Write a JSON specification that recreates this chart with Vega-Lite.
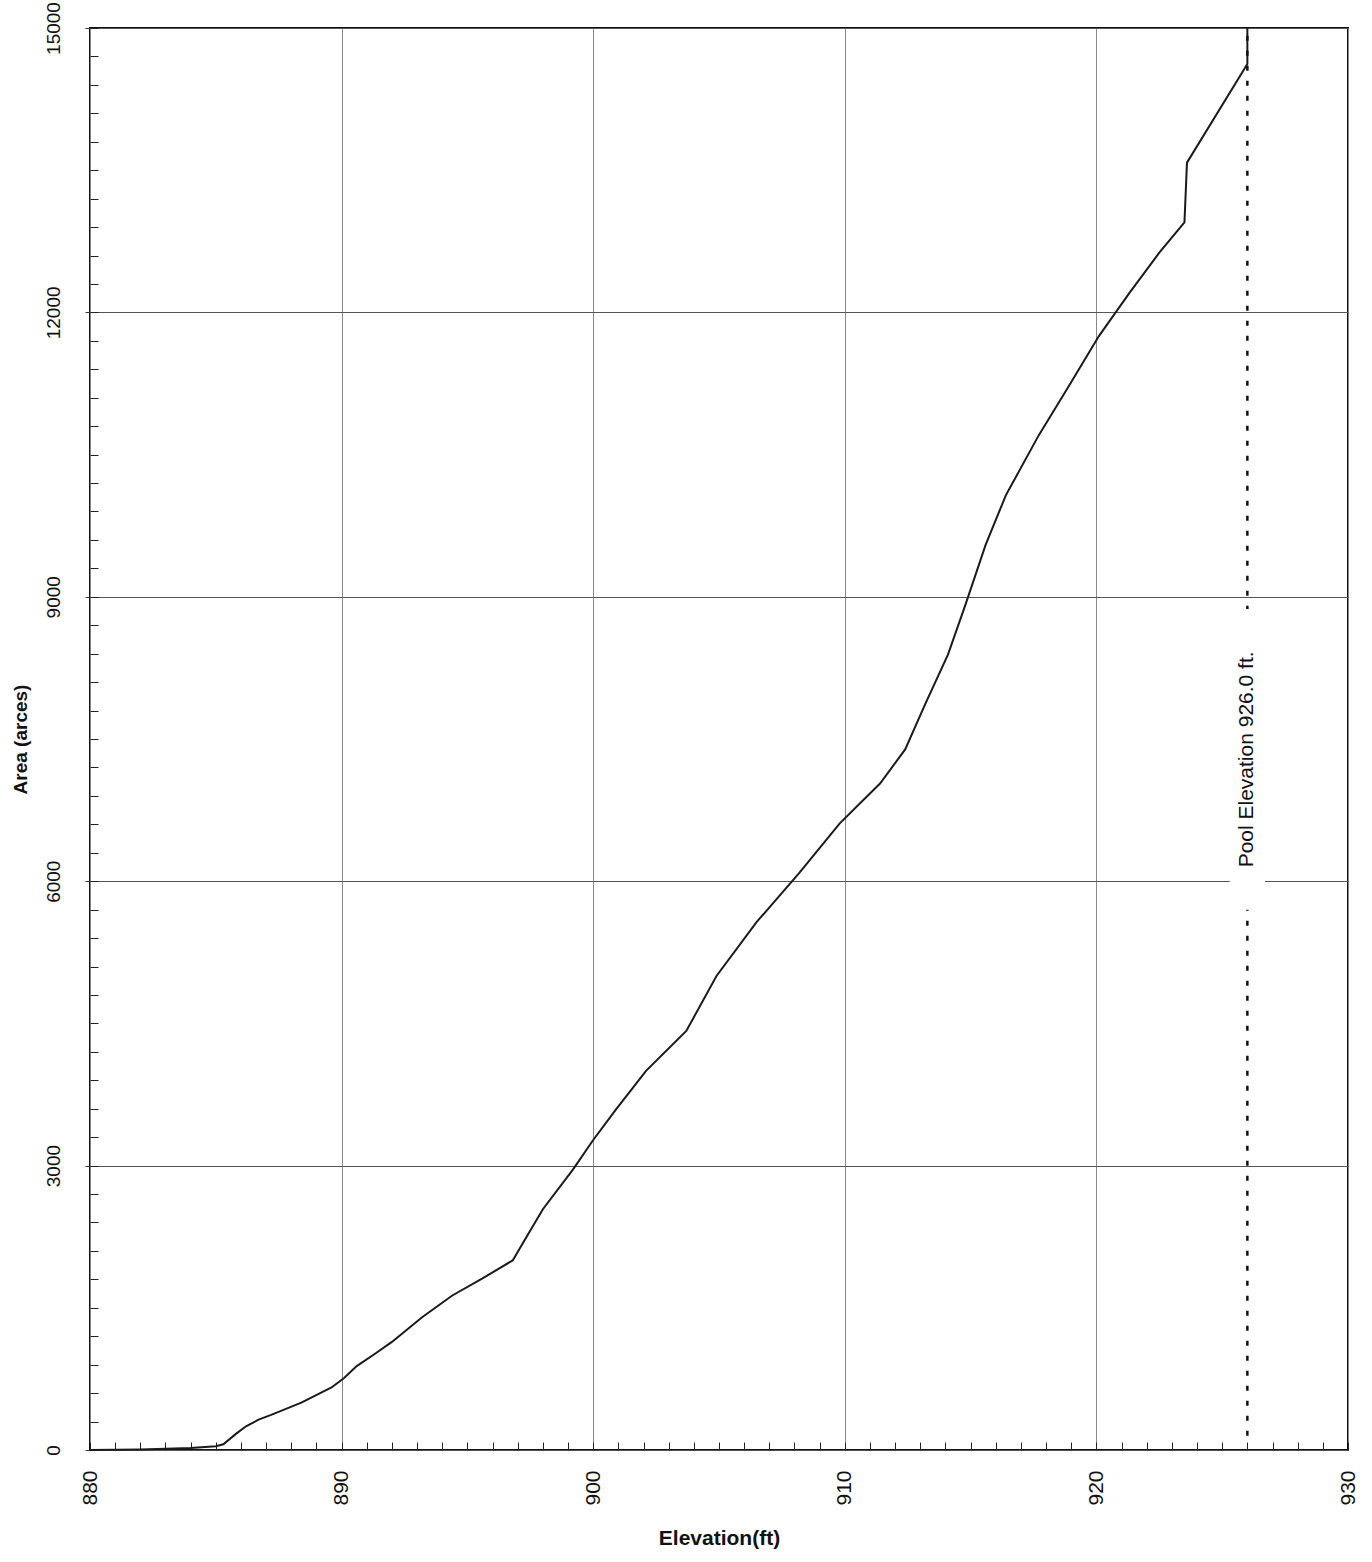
{
  "$schema": "https://vega.github.io/schema/vega-lite/v6.json",
  "width": 1258,
  "height": 1422,
  "autosize": {"type": "none"},
  "padding": {"left": 90, "top": 28, "right": 24, "bottom": 112},
  "background": "white",
  "config": {"view": {"stroke": "#111", "strokeWidth": 2}, "font": "Liberation Sans"},
  "datasets": {
    "curve": [
      {"elev": 880, "area": 0}, {"elev": 882, "area": 5}, {"elev": 884, "area": 20}, {"elev": 885, "area": 40},
      {"elev": 885.3, "area": 60}, {"elev": 885.8, "area": 170}, {"elev": 886.2, "area": 250}, {"elev": 886.7, "area": 320}, {"elev": 887.2, "area": 370}, {"elev": 888.4, "area": 500},
      {"elev": 889.6, "area": 660}, {"elev": 890.1, "area": 760}, {"elev": 890.6, "area": 885}, {"elev": 891.3, "area": 1010}, {"elev": 892, "area": 1140}, {"elev": 893.2, "area": 1400},
      {"elev": 894.4, "area": 1630}, {"elev": 895.6, "area": 1810}, {"elev": 896.8, "area": 2000}, {"elev": 897.4, "area": 2270}, {"elev": 898, "area": 2540},
      {"elev": 899.2, "area": 2960}, {"elev": 900, "area": 3270}, {"elev": 900.9, "area": 3590}, {"elev": 902.1, "area": 4000},
      {"elev": 903.7, "area": 4420}, {"elev": 904.9, "area": 5000}, {"elev": 906.5, "area": 5570}, {"elev": 908.2, "area": 6090},
      {"elev": 909.8, "area": 6610}, {"elev": 911.4, "area": 7030}, {"elev": 912.4, "area": 7390}, {"elev": 913.2, "area": 7870},
      {"elev": 914.1, "area": 8390}, {"elev": 914.8, "area": 8920}, {"elev": 915.6, "area": 9550}, {"elev": 916.4, "area": 10070},
      {"elev": 917.7, "area": 10700}, {"elev": 918.9, "area": 11220}, {"elev": 920.1, "area": 11750}, {"elev": 921.3, "area": 12200},
      {"elev": 922.5, "area": 12630}, {"elev": 923.5, "area": 12950}, {"elev": 923.6, "area": 13580}, {"elev": 926.0, "area": 14620},
      {"elev": 926.0, "area": 15000}
    ],
    "pool": [{"elev": 926, "y0": 150, "y1": 15000}],
    "label": [{"elev": 926, "y": 7285, "y0": 5700, "y1": 8870, "x0": 925.3, "x1": 926.7, "text": "Pool Elevation 926.0 ft."}]
  },
  "layer": [
    {
      "data": {"name": "curve"},
      "mark": {"type": "line", "color": "#1a1a1a", "strokeWidth": 2},
      "encoding": {
        "x": {"field": "elev", "type": "quantitative", "scale": {"domain": [880, 930], "nice": false},
          "axis": {"orient": "bottom", "values": [880, 890, 900, 910, 920, 930], "grid": true, "gridColor": "#888", "gridWidth": 1,
            "domain": false, "ticks": false, "labelAngle": 270, "labelFontSize": 21, "labelPadding": 20, "labelColor": "#111",
            "title": "Elevation(ft)", "titleFontSize": 21, "titleFontWeight": "bold", "titleColor": "#111", "titlePadding": 22}},
        "y": {"field": "area", "type": "quantitative", "scale": {"domain": [0, 15000], "nice": false},
          "axis": {"orient": "left", "values": [0, 3000, 6000, 9000, 12000, 15000], "format": "d", "grid": true, "gridColor": "#555", "gridWidth": 1.2,
            "domain": false, "ticks": true, "tickSize": 5, "tickColor": "#333", "labelAngle": 270, "labelFontSize": 19, "labelPadding": 22, "labelColor": "#111",
            "title": "Area (arces)", "titleFontSize": 19, "titleFontWeight": "bold", "titleColor": "#111", "titlePadding": 14}}
      }
    },
    {
      "data": {"name": "pool"},
      "mark": {"type": "rule", "color": "#111", "strokeWidth": 2.5, "strokeDash": [5, 10]},
      "encoding": {
        "x": {"field": "elev", "type": "quantitative",
          "axis": {"orient": "bottom", "values": [880,881,882,883,884,885,886,887,888,889,890,891,892,893,894,895,896,897,898,899,900,901,902,903,904,905,906,907,908,909,910,911,912,913,914,915,916,917,918,919,920,921,922,923,924,925,926,927,928,929,930],
            "grid": false, "domain": false, "labels": false, "title": null, "tickSize": -8, "tickColor": "#222"}},
        "y": {"field": "y0", "type": "quantitative",
          "axis": {"orient": "left", "values": [0,300,600,900,1200,1500,1800,2100,2400,2700,3000,3300,3600,3900,4200,4500,4800,5100,5400,5700,6000,6300,6600,6900,7200,7500,7800,8100,8400,8700,9000,9300,9600,9900,10200,10500,10800,11100,11400,11700,12000,12300,12600,12900,13200,13500,13800,14100,14400,14700,15000],
            "grid": false, "domain": false, "labels": false, "title": null, "tickSize": -8, "tickColor": "#222"}},
        "y2": {"field": "y1"}
      }
    },
    {
      "data": {"name": "label"},
      "mark": {"type": "rect", "color": "white"},
      "encoding": {
        "x": {"field": "x0", "type": "quantitative", "axis": null},
        "x2": {"field": "x1"},
        "y": {"field": "y0", "type": "quantitative", "axis": null},
        "y2": {"field": "y1"}
      }
    },
    {
      "data": {"name": "label"},
      "mark": {"type": "text", "angle": 270, "fontSize": 21, "color": "#111", "align": "center", "baseline": "middle"},
      "encoding": {
        "x": {"field": "elev", "type": "quantitative", "axis": null},
        "y": {"field": "y", "type": "quantitative", "axis": null},
        "text": {"field": "text"}
      }
    }
  ],
  "resolve": {"axis": {"x": "independent", "y": "independent"}}
}
